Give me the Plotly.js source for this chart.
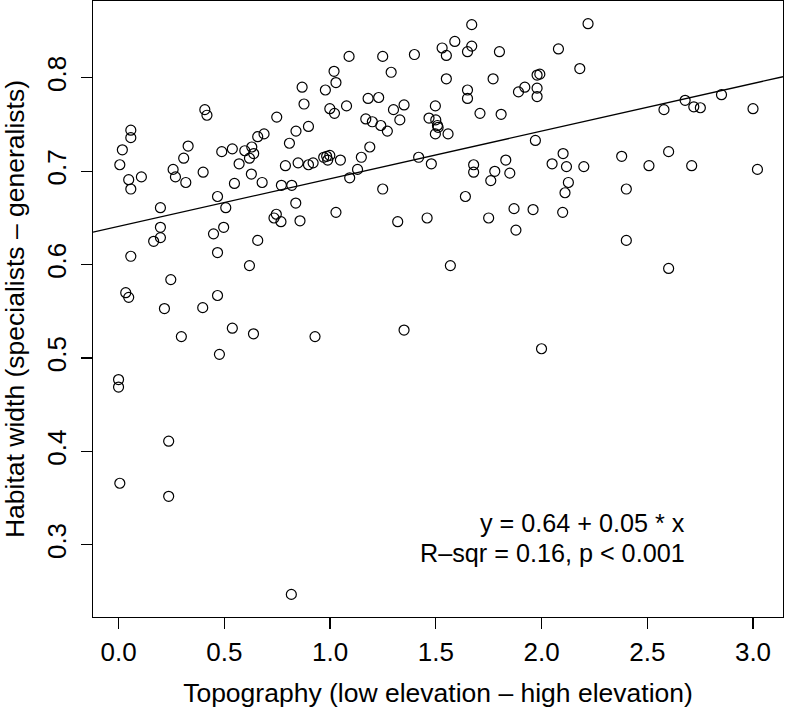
<!DOCTYPE html>
<html>
<head>
<meta charset="utf-8">
<script src="https://cdn.plot.ly/plotly-3.0.1.min.js"></script>
<style>html,body{margin:0;padding:0;background:#fff;}#chart{width:786px;height:708px;}</style>
</head>
<body>
<div id="chart"></div>
<script>
// Topography (x) vs habitat width (y)
var topography = [0.000,0.000,0.006,0.006,0.018,0.058,0.058,0.048,0.058,0.108,
  0.034,0.048,0.058,0.198,0.198,0.166,0.198,0.237,0.237,0.247,
  0.217,0.258,0.269,0.318,0.308,0.329,0.400,0.408,0.418,0.297,
  0.398,0.449,0.497,0.468,0.507,0.468,0.468,0.477,0.488,0.538,
  0.548,0.538,0.570,0.597,0.630,0.639,0.619,0.628,0.619,0.638,
  0.658,0.679,0.658,0.688,0.748,0.746,0.735,0.768,0.770,0.789,
  0.808,0.819,0.817,0.838,0.839,0.849,0.858,0.868,0.877,0.898,
  0.898,0.920,0.929,0.970,0.984,0.999,0.989,0.978,0.999,1.019,
  1.028,1.021,1.028,1.049,1.078,1.090,1.093,1.130,1.148,1.169,
  1.180,1.188,1.200,1.230,1.240,1.249,1.249,1.271,1.289,1.300,
  1.320,1.330,1.350,1.350,1.399,1.419,1.459,1.468,1.479,1.498,
  1.500,1.508,1.511,1.498,1.530,1.550,1.550,1.558,1.569,1.590,
  1.640,1.650,1.650,1.650,1.670,1.670,1.679,1.679,1.709,1.750,
  1.760,1.771,1.779,1.801,1.809,1.831,1.850,1.870,1.879,1.891,
  1.921,1.960,1.971,1.979,1.992,1.979,1.979,2.000,2.050,2.080,
  2.100,2.102,2.111,2.118,2.127,2.181,2.200,2.220,2.379,2.401,
  2.401,2.508,2.579,2.601,2.601,2.679,2.710,2.720,2.751,2.851,
  3.000,3.021];
var habitatWidth = [0.477,0.469,0.366,0.707,0.723,0.744,0.736,0.691,0.681,0.694,
  0.570,0.565,0.609,0.661,0.640,0.625,0.629,0.411,0.352,0.584,
  0.553,0.702,0.694,0.688,0.714,0.727,0.699,0.766,0.760,0.523,
  0.554,0.633,0.640,0.673,0.661,0.613,0.567,0.504,0.721,0.724,
  0.687,0.532,0.708,0.722,0.726,0.719,0.714,0.697,0.599,0.526,
  0.626,0.688,0.737,0.740,0.758,0.654,0.650,0.646,0.685,0.706,
  0.730,0.685,0.247,0.666,0.743,0.709,0.647,0.790,0.772,0.748,
  0.707,0.709,0.523,0.715,0.716,0.717,0.712,0.787,0.767,0.807,
  0.795,0.762,0.656,0.712,0.770,0.823,0.693,0.702,0.715,0.756,
  0.778,0.726,0.753,0.779,0.749,0.823,0.681,0.743,0.806,0.766,
  0.646,0.755,0.771,0.530,0.825,0.715,0.650,0.757,0.708,0.770,
  0.755,0.749,0.747,0.740,0.832,0.824,0.799,0.740,0.599,0.839,
  0.673,0.828,0.787,0.778,0.857,0.834,0.707,0.699,0.762,0.650,
  0.690,0.799,0.700,0.828,0.761,0.712,0.698,0.660,0.637,0.785,
  0.790,0.659,0.733,0.803,0.804,0.789,0.780,0.510,0.708,0.831,
  0.656,0.719,0.677,0.705,0.688,0.810,0.705,0.858,0.716,0.681,
  0.626,0.706,0.766,0.721,0.596,0.776,0.706,0.769,0.768,0.782,
  0.767,0.702];
var fitIntercept = 0.641;
var fitSlope = 0.051;
var xTickVals = [0, 0.5, 1, 1.5, 2, 2.5, 3];
var xTickText = ["0.0", "0.5", "1.0", "1.5", "2.0", "2.5", "3.0"];
var yTickVals = [0.3, 0.4, 0.5, 0.6, 0.7, 0.8];
var yTickText = ["0.3", "0.4", "0.5", "0.6", "0.7", "0.8"];
var xTitle = "Topography (low elevation \u2013 high elevation)";
var yTitle = "Habitat width (specialists \u2013 generalists)";
var annoLines = ["y = 0.64 + 0.05 * x", "R\u2013sqr = 0.16, p < 0.001"];

var xRange = [-0.1208, 3.1418];
var yRange = [0.2228, 0.8823];
var fitX = [xRange[0], xRange[1]];
var fitY = fitX.map(function (v) { return fitIntercept + fitSlope * v; });

var FONT = "'Liberation Sans', Arial, Helvetica, sans-serif";

var traces = [
  {x: topography, y: habitatWidth, type: "scatter", mode: "markers",
   marker: {symbol: "circle-open", size: 10, color: "#000", line: {width: 1.2, color: "#000"}},
   hoverinfo: "x+y", showlegend: false},
  {x: fitX, y: fitY, type: "scatter", mode: "lines",
   line: {color: "#000", width: 1.3}, hoverinfo: "skip", showlegend: false}
];

var layout = {
  width: 786, height: 708,
  margin: {l: 93, r: 3, t: 1, b: 91},
  paper_bgcolor: "#fff", plot_bgcolor: "#fff",
  font: {family: FONT, size: 26, color: "#000"},
  showlegend: false,
  xaxis: {
    range: xRange, showgrid: false, zeroline: false,
    showline: true, mirror: true, linecolor: "#000", linewidth: 1.3,
    ticks: "outside", ticklen: 11, tickwidth: 1.2, tickcolor: "#000",
    tickvals: xTickVals, ticktext: xTickText,
    tickfont: {family: FONT, size: 26, color: "#000"},
    ticklabelstandoff: 0,
    title: {text: xTitle, font: {family: FONT, size: 26.5, color: "#000"}, standoff: 18}
  },
  yaxis: {
    range: yRange, showgrid: false, zeroline: false,
    showline: true, mirror: true, linecolor: "#000", linewidth: 1.3,
    ticks: "outside", ticklen: 11, tickwidth: 1.2, tickcolor: "#000",
    tickvals: yTickVals, ticktext: yTickText, tickangle: -90,
    tickfont: {family: FONT, size: 26, color: "#000"},
    ticklabelstandoff: 4,
    title: {text: yTitle, font: {family: FONT, size: 26.5, color: "#000"}, standoff: 10}
  },
  annotations: [
    {x: 2.687, y: 0.3235, xref: "x", yref: "y", text: annoLines[0], showarrow: false,
     xanchor: "right", yanchor: "middle", font: {family: FONT, size: 25.2, color: "#000"}},
    {x: 2.687, y: 0.2913, xref: "x", yref: "y", text: annoLines[1], showarrow: false,
     xanchor: "right", yanchor: "middle", font: {family: FONT, size: 25.2, color: "#000"}}
  ]
};

Plotly.newPlot("chart", traces, layout, {displayModeBar: false, staticPlot: true});
</script>
</body>
</html>
